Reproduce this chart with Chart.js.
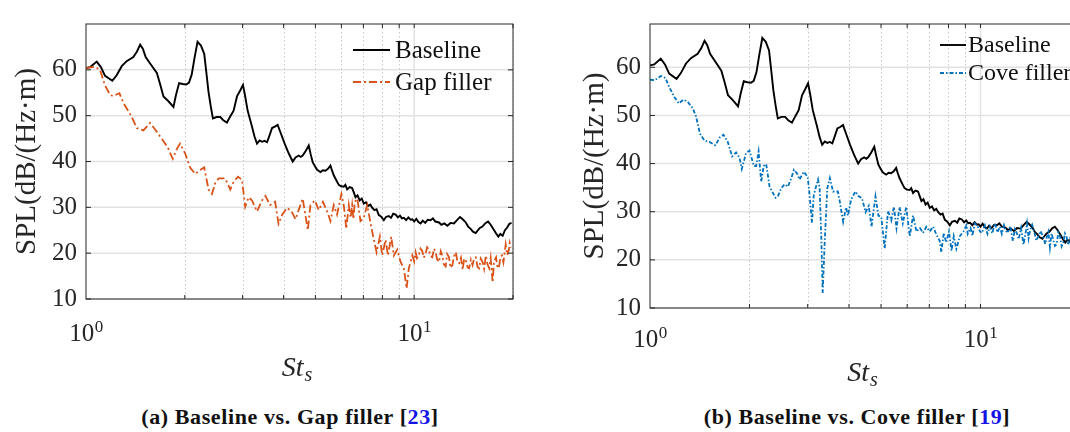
<!DOCTYPE html>
<html>
<head>
<meta charset="utf-8">
<script src="https://cdn.jsdelivr.net/npm/chart.js@4.4.1/dist/chart.umd.min.js"></script>
<style>
  html, body { margin: 0; padding: 0; background: #fff; width: 1070px; height: 432px; overflow: hidden; position: relative; }
  .panel { position: absolute; top: 0; }
  .cap { position: absolute; top: 404px; font: bold 22px "Liberation Serif", serif; letter-spacing: 0.6px; color: #111; white-space: nowrap; transform: translateX(-50%); }
  .cap span { color: #1414e6; }
</style>
</head>
<body>
<div class="panel" style="left:0;width:540px;height:390px"><canvas id="chartA" width="540" height="390"></canvas></div>
<div class="panel" style="left:540px;width:560px;height:390px"><canvas id="chartB" width="560" height="390"></canvas></div>
<div class="cap" style="left:290px">(a) Baseline vs. Gap filler [<span>23</span>]</div>
<div class="cap" style="left:857px">(b) Baseline vs. Cove filler [<span>19</span>]</div>
<script>
// ticks
var yTicks = [10, 20, 30, 40, 50, 60];
var xMinor = [2, 3, 4, 5, 6, 7, 8, 9, 20];
var xMajor = [10];
var xTickVals = [1, 10];
var xTickExps = ['0', '1'];

// Baseline (same in both panels)
var baseSt = [1.00, 1.03, 1.078, 1.11, 1.143, 1.203, 1.24, 1.285, 1.33, 1.394, 1.43, 1.462, 1.49, 1.52, 1.568, 1.644, 1.68, 1.722, 1.78, 1.847,
  1.88, 1.922, 1.97, 2.02, 2.06, 2.10, 2.14, 2.187, 2.24, 2.292, 2.33, 2.362, 2.40, 2.436, 2.50, 2.565, 2.62, 2.688, 2.75, 2.817,
  2.884, 2.95, 3.008, 3.05, 3.108, 3.205, 3.26, 3.319, 3.38, 3.438, 3.50, 3.561, 3.62, 3.689, 3.76, 3.837, 3.93, 4.03, 4.145, 4.264,
  4.35, 4.446, 4.51, 4.573, 4.67, 4.771, 4.84, 4.908, 4.98, 5.06, 5.18, 5.27, 5.365, 5.46, 5.557, 5.62, 5.687, 5.79, 5.89, 5.99,
  6.10, 6.17, 6.25, 6.36, 6.47, 6.55, 6.625, 6.72, 6.82, 6.92, 7.02, 7.13, 7.24, 7.35, 7.45, 7.57, 7.68, 7.80, 7.92, 8.08,
  8.2, 8.37, 8.5, 8.63, 8.78, 8.92, 9.05, 9.18, 9.30, 9.45, 9.6, 9.75, 9.87, 10.0, 10.15, 10.3, 10.46, 10.62, 10.8, 11.0,
  11.22, 11.4, 11.6, 11.9, 12.1, 12.35, 12.62, 12.9, 13.22, 13.5, 13.79, 14.05, 14.36, 14.6, 14.86, 15.1, 15.4, 15.6, 15.85, 16.14,
  16.45, 16.79, 17.1, 17.52, 17.8, 18.05, 18.3, 18.6, 18.9, 19.2, 19.5, 19.8];
var baseSpl = [60.4, 60.6, 61.8, 60.6, 58.7, 57.6, 58.8, 60.8, 61.9, 62.8, 64.0, 65.5, 64.6, 62.8, 61.4, 59.3, 57.0, 54.2, 53.2, 51.9,
  54.5, 57.1, 56.9, 56.8, 57.2, 59.0, 62.5, 66.1, 65.3, 63.5, 59.0, 55.2, 52.0, 49.4, 49.7, 49.7, 49.0, 48.5, 49.8, 51.1,
  54.2, 55.5, 56.7, 54.5, 51.1, 47.6, 45.5, 43.9, 44.6, 44.3, 44.5, 44.2, 45.6, 47.3, 47.6, 48.0, 46.0, 43.9, 41.8, 40.0,
  40.9, 41.3, 41.0, 41.3, 42.3, 43.5, 41.5, 39.8, 39.0, 38.2, 37.7, 38.1, 38.0, 38.4, 39.1, 38.0, 37.0, 35.9, 34.9, 34.6,
  34.5, 34.9, 33.9, 34.4, 34.2, 33.2, 32.2, 32.6, 31.5, 31.9, 30.8, 31.1, 30.3, 30.6, 29.9, 29.4, 29.6, 28.3, 28.0, 27.2,
  27.9, 28.1, 27.7, 28.6, 28.4, 27.8, 28.2, 27.6, 27.7, 27.2, 27.8, 27.3, 27.4, 26.9, 27.5, 26.8, 26.5, 27.1, 26.6, 27.3,
  27.2, 27.6, 26.9, 26.7, 26.2, 26.5, 26.0, 26.6, 26.5, 27.2, 27.9, 27.4, 26.7, 25.8, 25.3, 24.7, 24.4, 24.9, 25.5, 25.8,
  26.5, 26.9, 26.2, 25.0, 24.2, 23.6, 24.2, 23.8, 25.0, 25.6, 26.4, 26.6];

// Gap filler (panel a)
var gapSt = [1.00, 1.065, 1.103, 1.143, 1.184, 1.211, 1.264, 1.30, 1.379, 1.428, 1.496, 1.568, 1.624, 1.703, 1.771, 1.838, 1.89, 1.935, 2.004, 2.076,
  2.151, 2.255, 2.292, 2.362, 2.42, 2.476, 2.535, 2.655, 2.753, 2.817, 2.905, 2.987, 3.056, 3.128, 3.205, 3.319, 3.438, 3.52, 3.64, 3.77,
  3.86, 3.96, 4.10, 4.23, 4.35, 4.446, 4.573, 4.66, 4.74, 4.83, 4.98, 5.12, 5.27, 5.43, 5.557, 5.687, 5.82, 6.00, 6.10, 6.21,
  6.32, 6.40, 6.47, 6.53, 6.59, 6.71, 6.86, 7.02, 7.19, 7.37, 7.50, 7.68, 7.86, 7.99, 8.18, 8.32, 8.51, 8.67, 8.88, 9.09,
  9.30, 9.48, 9.63, 9.87, 10.0, 10.1, 10.2, 10.33, 10.45, 10.58, 10.7, 10.82, 10.95, 11.08, 11.2, 11.35, 11.5, 11.62, 11.75, 11.9,
  12.05, 12.18, 12.3, 12.47, 12.6, 12.77, 12.9, 13.08, 13.2, 13.39, 13.55, 13.71, 13.88, 14.05, 14.2, 14.36, 14.55, 14.70, 14.88, 15.06,
  15.22, 15.40, 15.6, 15.78, 15.95, 16.14, 16.33, 16.53, 16.72, 16.93, 17.1, 17.34, 17.5, 17.76, 17.9, 18.1, 18.3, 18.5, 18.7, 19.0,
  19.2, 19.4, 19.55, 19.7];
var gapSpl = [60.4, 60.7, 60.0, 56.6, 54.5, 54.3, 54.9, 52.8, 49.7, 47.3, 46.8, 48.4, 47.0, 44.9, 43.2, 40.6, 42.7, 43.9, 41.8, 38.7,
  37.3, 38.4, 38.7, 33.9, 32.9, 35.3, 36.3, 36.3, 33.9, 35.6, 36.7, 36.0, 30.1, 32.2, 31.5, 29.1, 31.5, 32.5, 30.5, 31.2,
  26.4, 28.4, 29.9, 29.1, 27.4, 29.4, 31.9, 28.4, 25.0, 30.5, 31.5, 29.4, 31.2, 29.1, 27.0, 30.5, 28.4, 32.9, 30.5, 25.3,
  30.5, 27.7, 30.5, 27.4, 31.2, 31.9, 27.0, 27.7, 30.5, 26.4, 23.6, 20.2, 23.6, 19.5, 22.9, 19.5, 23.6, 19.5, 20.8, 18.1,
  16.7, 12.3, 16.7, 19.5, 18.2, 20.2, 18.9, 19.5, 21.0, 20.5, 19.0, 19.8, 21.3, 20.8, 19.4, 19.1, 21.0, 20.2, 18.6, 18.1,
  20.4, 19.5, 17.6, 17.1, 19.8, 19.1, 16.8, 17.4, 19.2, 20.2, 18.0, 17.8, 19.0, 16.4, 18.8, 18.5, 16.9, 16.7, 18.6, 17.4,
  18.9, 19.1, 17.0, 16.7, 18.8, 18.1, 16.6, 19.5, 17.6, 16.7, 18.9, 13.6, 18.2, 19.1, 17.2, 16.7, 19.0, 19.5, 18.0, 21.9,
  19.6, 20.5, 22.2, 21.2];

// Cove filler (panel b)
var coveSt = [1.00, 1.031, 1.08, 1.113, 1.145, 1.186, 1.222, 1.263, 1.301, 1.347, 1.378, 1.417, 1.461, 1.513, 1.578, 1.629, 1.668, 1.719, 1.772, 1.822,
  1.866, 1.896, 1.953, 2.0, 2.062, 2.095, 2.131, 2.17, 2.207, 2.247, 2.30, 2.398, 2.437, 2.495, 2.556, 2.614, 2.674, 2.726, 2.79, 2.834,
  2.92, 3.0, 3.04, 3.09, 3.13, 3.224, 3.26, 3.30, 3.33, 3.38, 3.44, 3.50, 3.58, 3.70, 3.75, 3.84, 3.92, 3.97, 4.06, 4.18,
  4.28, 4.38, 4.49, 4.59, 4.68, 4.81, 4.91, 5.01, 5.13, 5.25, 5.37, 5.47, 5.57, 5.69, 5.82, 5.96, 6.11, 6.25, 6.40, 6.56,
  6.70, 6.86, 7.02, 7.19, 7.36, 7.53, 7.61, 7.74, 7.87, 8.03, 8.17, 8.30, 8.45, 8.66, 8.88, 9.07, 9.15, 9.33, 9.45, 9.62,
  9.8, 9.96, 10.1, 10.31, 10.5, 10.68, 10.85, 11.06, 11.25, 11.45, 11.6, 11.78, 11.95, 12.14, 12.3, 12.53, 12.7, 12.87, 13.05, 13.27,
  13.49, 13.65, 13.83, 13.98, 14.13, 14.33, 14.53, 14.75, 14.96, 15.2, 15.5, 15.7, 15.9, 16.05, 16.22, 16.4, 16.6, 16.8, 16.99, 17.2,
  17.4, 17.6, 17.8, 18.0, 18.2, 18.4, 18.6, 18.9, 19.2, 19.5, 19.8];
var coveSpl = [57.45, 57.3, 58.2, 57.8, 55.8, 53.8, 52.5, 53.3, 52.8, 51.5, 49.8, 46.2, 44.8, 44.5, 43.8, 45.5, 46.0, 44.5, 41.5, 42.3,
  41.2, 38.9, 42.2, 42.7, 39.5, 39.5, 42.5, 36.2, 39.5, 39.9, 35.2, 32.9, 33.2, 34.9, 35.7, 35.2, 36.9, 38.7, 37.9, 36.7,
  38.3, 37.2, 33.5, 27.7, 33.5, 36.7, 34.9, 24.2, 13.1, 24.2, 34.9, 37.0, 34.2, 34.2, 32.2, 27.9, 30.9, 29.2, 32.5, 34.2,
  33.2, 32.8, 29.9, 31.2, 26.9, 33.2, 29.2, 28.9, 22.3, 30.2, 28.2, 31.0, 26.6, 31.0, 27.6, 31.0, 24.9, 29.2, 25.9, 26.6,
  25.6, 26.9, 25.9, 26.9, 25.2, 23.9, 21.6, 25.6, 23.6, 25.9, 21.9, 24.9, 22.3, 24.9, 25.9, 27.2, 25.4, 26.6, 25.0, 27.6,
  27.0, 25.9, 25.6, 27.2, 25.4, 26.9, 25.5, 27.6, 25.7, 26.9, 25.4, 27.2, 25.9, 25.9, 27.0, 23.9, 26.4, 25.6, 24.3, 26.6,
  23.2, 25.0, 27.6, 24.5, 26.2, 27.3, 25.9, 24.0, 24.9, 26.0, 24.6, 23.3, 24.9, 25.8, 22.6, 25.5, 24.2, 22.9, 23.2, 25.7,
  24.9, 22.8, 23.6, 25.5, 24.9, 23.1, 24.2, 25.6, 24.8, 23.8, 25.2];

function pairs(xs, ys) {
  return xs.map(function(v, i) { return { x: v, y: ys[i] }; });
}

var ink = '#262626';

var axesPlugin = {
  id: 'matlabAxes',
  beforeDatasetsDraw: function(chart, args, opts) {
    var ctx = chart.ctx, a = chart.chartArea, x = chart.scales.x, y = chart.scales.y;
    ctx.save();
    ctx.strokeStyle = '#e2e2e2';
    ctx.lineWidth = 1.5;
    yTicks.forEach(function(v) {
      var p = y.getPixelForValue(v);
      ctx.beginPath(); ctx.moveTo(a.left, p); ctx.lineTo(a.right, p); ctx.stroke();
    });
    xMajor.forEach(function(v) {
      var p = x.getPixelForValue(v);
      ctx.beginPath(); ctx.moveTo(p, a.top); ctx.lineTo(p, a.bottom); ctx.stroke();
    });
    ctx.strokeStyle = '#c8c8c8';
    ctx.lineWidth = 1;
    ctx.setLineDash([1.5, 2.5]);
    xMinor.forEach(function(v) {
      var p = Math.round(x.getPixelForValue(v)) + 0.5;
      ctx.beginPath(); ctx.moveTo(p, a.top); ctx.lineTo(p, a.bottom); ctx.stroke();
    });
    ctx.restore();
  },
  afterDatasetsDraw: function(chart, args, opts) {
    var ctx = chart.ctx, a = chart.chartArea, x = chart.scales.x, y = chart.scales.y;
    ctx.save();
    // box and inward ticks
    ctx.strokeStyle = ink;
    ctx.lineWidth = 1;
    ctx.strokeRect(a.left, a.top, a.right - a.left, a.bottom - a.top);
    ctx.beginPath();
    yTicks.forEach(function(v) {
      var p = y.getPixelForValue(v);
      ctx.moveTo(a.left, p); ctx.lineTo(a.left + 5, p);
      ctx.moveTo(a.right, p); ctx.lineTo(a.right - 5, p);
    });
    xMinor.concat(xMajor).forEach(function(v) {
      var p = x.getPixelForValue(v);
      ctx.moveTo(p, a.bottom); ctx.lineTo(p, a.bottom - 4);
      ctx.moveTo(p, a.top); ctx.lineTo(p, a.top + 4);
    });
    ctx.stroke();

    // x tick labels 10^n
    ctx.fillStyle = ink;
    ctx.textBaseline = 'alphabetic';
    xTickVals.forEach(function(v, i) {
      var p = x.getPixelForValue(v);
      ctx.font = '25px "Liberation Serif"';
      var w1 = ctx.measureText('10').width;
      ctx.font = '17px "Liberation Serif"';
      var w2 = ctx.measureText(xTickExps[i]).width;
      var left = p - (w1 + w2) / 2;
      var base = a.bottom + opts.tickBase;
      ctx.font = '25px "Liberation Serif"';
      ctx.textAlign = 'left';
      ctx.fillText('10', left, base);
      ctx.font = '17px "Liberation Serif"';
      ctx.fillText(xTickExps[i], left + w1 + 0.5, base - 9);
    });

    // x title St_s
    ctx.font = 'italic 28px "Liberation Serif"';
    var wa = ctx.measureText('St').width;
    ctx.font = 'italic 20px "Liberation Serif"';
    var wb = ctx.measureText('s').width;
    var cx = (a.left + a.right) / 2 - 3 - (wa + wb) / 2;
    var by = a.bottom + opts.titleBase;
    ctx.font = 'italic 28px "Liberation Serif"';
    ctx.fillText('St', cx, by);
    ctx.font = 'italic 20px "Liberation Serif"';
    ctx.fillText('s', cx + wa + 1, by + 5);

    // legend
    var lg = opts.legend;
    var order = ['Baseline', chart.data.datasets[0].label];
    ctx.font = lg.size + 'px "Liberation Serif"';
    ctx.textBaseline = 'middle';
    order.forEach(function(name, i) {
      var ds = chart.data.datasets.filter(function(d) { return d.label === name; })[0];
      var ly = a.top + lg.row0 + i * lg.gap;
      ctx.strokeStyle = ds.borderColor;
      ctx.lineWidth = ds.borderWidth;
      ctx.setLineDash(ds.borderDash || []);
      ctx.beginPath(); ctx.moveTo(lg.x0, ly); ctx.lineTo(lg.x1, ly); ctx.stroke();
      ctx.setLineDash([]);
      ctx.fillStyle = '#111';
      ctx.fillText(name, lg.tx, ly + 1);
    });
    ctx.restore();
  }
};

function makeChart(id, cfg) {
  return new Chart(document.getElementById(id), {
    type: 'line',
    data: {
      datasets: [
        { label: cfg.label, data: pairs(cfg.st, cfg.spl), borderColor: cfg.color, borderDash: cfg.dash,
          borderWidth: 1.8, pointRadius: 0, tension: 0, fill: false, order: 0 },
        { label: 'Baseline', data: pairs(baseSt, baseSpl), borderColor: '#000000',
          borderWidth: 1.9, pointRadius: 0, tension: 0, fill: false, order: 1 }
      ]
    },
    options: {
      responsive: false,
      animation: false,
      devicePixelRatio: 1,
      layout: { padding: { top: cfg.top, right: cfg.right, bottom: 0, left: 0 } },
      plugins: {
        legend: { display: false },
        tooltip: { enabled: false },
        matlabAxes: { legend: cfg.legend, tickBase: cfg.tickBase, titleBase: cfg.titleBase }
      },
      scales: {
        x: {
          type: 'logarithmic', min: 1, max: 20,
          grid: { display: false, drawTicks: false },
          border: { display: false },
          ticks: { display: false },
          afterFit: function(s) { s.height = cfg.xh; }
        },
        y: {
          min: 10, max: cfg.ymax,
          grid: { display: false, drawTicks: false },
          border: { display: false },
          ticks: {
            stepSize: 10, padding: 9, color: ink,
            font: { family: 'Liberation Serif', size: 25 },
            callback: function(v) { return yTicks.indexOf(v) >= 0 ? String(v) : ''; }
          },
          title: {
            display: true, text: 'SPL(dB/(Hz\u00b7m)', color: ink,
            font: { family: 'Liberation Serif', size: 29 },
            padding: { top: cfg.titlePad, bottom: 0 }
          },
          afterFit: function(s) { s.width = cfg.yw; }
        }
      }
    },
    plugins: [axesPlugin]
  });
}

makeChart('chartA', {
  label: 'Gap filler', st: gapSt, spl: gapSpl, color: '#D95319', dash: [8, 3, 2, 3],
  top: 8, right: 27, xh: 91, yw: 86, ymax: 70, titlePad: 10, tickBase: 42, titleBase: 77,
  legend: { x0: 353, x1: 390, tx: 395, row0: 26, gap: 32, size: 25 }
});
makeChart('chartB', {
  label: 'Cove filler', st: coveSt, spl: coveSpl, color: '#0072BD', dash: [4, 2, 1.5, 2],
  top: 13, right: 20, xh: 82, yw: 110, ymax: 69, titlePad: 38, tickBase: 39, titleBase: 73,
  legend: { x0: 400, x1: 426, tx: 428, row0: 21, gap: 28, size: 24 }
});
</script>
</body>
</html>
